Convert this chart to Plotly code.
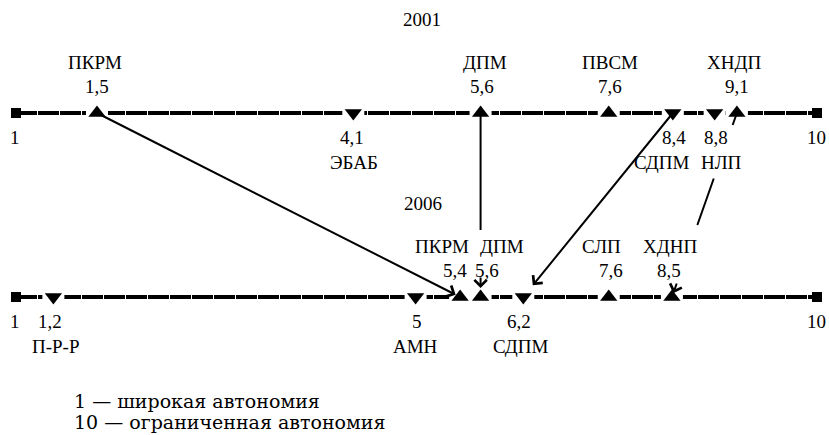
import plotly.graph_objects as go

# ---------------- data ----------------
years = ["2001", "2006"]

top_names = ["ПКРМ", "ЭБАБ", "ДПМ", "ПВСМ", "СДПМ", "НЛП", "ХНДП"]
top_values = ["1,5", "4,1", "5,6", "7,6", "8,4", "8,8", "9,1"]
top_pos = [1.91, 4.79, 6.22, 7.66, 8.38, 8.85, 9.10]      # where the mark sits on the schematic scale
top_dir = ["up", "down", "up", "up", "down", "down", "up"]

bottom_names = ["П-Р-Р", "АМН", "ПКРМ", "ДПМ", "СДПМ", "СЛП", "ХДНП"]
bottom_values = ["1,2", "5", "5,4", "5,6", "6,2", "7,6", "8,5"]
bottom_pos = [1.42, 5.49, 5.99, 6.22, 6.70, 7.66, 8.37]
bottom_dir = ["down", "down", "up", "up", "down", "up", "up"]

scale_ends = [1, 10]
end_labels = ["1", "10"]

links = [("ПКРМ", "ПКРМ"), ("ДПМ", "ДПМ"), ("СДПМ", "СДПМ"), ("ХНДП", "ХДНП")]

legend_lines = ["1 — широкая автономия", "10 — ограниченная автономия"]

# ---------------- layout helpers ----------------
W, H = 829, 435
X0_PX, PX_PER_UNIT = 16, 89.0          # scale value 1 at 16 px, 89 px per unit
TOP_PX, BOT_PX = 113, 297
PX_PER_ROW = BOT_PX - TOP_PX
rows = [1, 0]

def y_of_px(p):
    return 1 - (p - TOP_PX) / PX_PER_ROW

x_range = [1 - X0_PX / PX_PER_UNIT, 1 + (W - X0_PX) / PX_PER_UNIT]
y_range = [y_of_px(H), y_of_px(0)]

FONT = "Liberation Serif, Times New Roman, Times, serif"
FS = 19
TXT = dict(family=FONT, size=FS, color="black")

# label nudges (px)
top_name_dx = [-2, 1, 4, 1, -11, 7, -3]
top_val_dx = [0, -1, 1, 1, 1, 1, 0]
bot_name_dx = [3, 0, -18, 21, -3, -7, -2]
bot_val_dx = [-3, 1, -5, 6, -4, 2, -3]

# arrow gaps (px ranges where line is hidden behind labels) and standoffs
link_breaks = [[], [(230, 276)], [], [(125, 177), (225, 282)]]
link_standoff = [5, 9, 15, 4]

fig = go.Figure()
annotations = []

groups = [
    (rows[0], top_names, top_values, top_pos, top_dir, top_name_dx, top_val_dx),
    (rows[1], bottom_names, bottom_values, bottom_pos, bottom_dir, bot_name_dx, bot_val_dx),
]

for row, names, vals, pos, dirs, ndx, vdx in groups:
    # the scale line
    fig.add_trace(go.Scatter(x=scale_ends, y=[row, row], mode="lines",
                             line=dict(color="black", width=4, dash="21px,1px"),
                             hoverinfo="skip", showlegend=False))
    # end squares
    fig.add_trace(go.Scatter(x=scale_ends, y=[row, row], mode="markers",
                             marker=dict(symbol="square", size=10, color="black"),
                             hoverinfo="skip", showlegend=False))
    # white gaps around marks
    fig.add_trace(go.Scatter(x=pos, y=[row] * len(pos), mode="markers",
                             marker=dict(symbol="square", size=22, color="white"),
                             hoverinfo="skip", showlegend=False))
    # triangles
    fig.add_trace(go.Scatter(x=pos, y=[row] * len(pos), mode="markers",
                             marker=dict(symbol=["triangle-" + d for d in dirs], size=15,
                                         color="black", line=dict(width=0)),
                             hoverinfo="skip", showlegend=False))
    for i in range(len(names)):
        if dirs[i] == "up":
            name_dy, val_dy = 51, 27
        else:
            name_dy, val_dy = -49, -24
        annotations.append(dict(x=pos[i], y=row, xref="x", yref="y", text=names[i],
                                showarrow=False, xshift=ndx[i], yshift=name_dy,
                                xanchor="center", yanchor="middle", font=TXT))
        annotations.append(dict(x=pos[i], y=row, xref="x", yref="y", text=vals[i],
                                showarrow=False, xshift=vdx[i], yshift=val_dy,
                                xanchor="center", yanchor="middle", font=TXT))
    for xe, lab in zip(scale_ends, end_labels):
        annotations.append(dict(x=xe, y=row, xref="x", yref="y", text=lab,
                                showarrow=False, yshift=-24, xshift=-1,
                                xanchor="center", yanchor="middle", font=TXT))

# arrows linking 2001 -> 2006
for k, (a, b) in enumerate(links):
    xt = top_pos[top_names.index(a)]
    xb = bottom_pos[bottom_names.index(b)]
    def x_at(v):
        return xb + (xt - xb) * v
    vis = []
    start = 1.0
    for p0, p1 in link_breaks[k]:
        vis.append((start, y_of_px(p0)))
        start = y_of_px(p1)
    vis.append((start, 0.0))
    for j, (v0, v1) in enumerate(vis):
        last = j == len(vis) - 1
        annotations.append(dict(
            x=x_at(v1), y=v1, ax=x_at(v0), ay=v0, xref="x", yref="y",
            axref="x", ayref="y", text="", showarrow=True,
            arrowhead=4 if last else 0, arrowsize=1.2, arrowwidth=2,
            arrowcolor="black", standoff=link_standoff[k] if last else 0))

# year captions
annotations.append(dict(x=422 / W, y=1 - 20 / H, xref="paper", yref="paper", text=years[0],
                        showarrow=False, xanchor="center", yanchor="middle", font=TXT))
annotations.append(dict(x=423 / W, y=1 - 203 / H, xref="paper", yref="paper", text=years[1],
                        showarrow=False, xanchor="center", yanchor="middle", font=TXT))

# explanation lines
for i, line in enumerate(legend_lines):
    annotations.append(dict(x=72 / W, y=1 - (401 + 21 * i) / H, xref="paper", yref="paper",
                            text=line, showarrow=False, xanchor="left", yanchor="middle",
                            font=dict(family="DejaVu Serif", size=19, color="black")))

fig.update_layout(
    width=W, height=H, autosize=False,
    margin=dict(l=0, r=0, t=0, b=0),
    paper_bgcolor="white", plot_bgcolor="white",
    xaxis=dict(range=x_range, visible=False, fixedrange=True),
    yaxis=dict(range=y_range, visible=False, fixedrange=True),
    annotations=annotations,
    showlegend=False,
)

fig.write_html("out.html", config={"displayModeBar": False},
               post_script="document.body.style.margin='0';")
